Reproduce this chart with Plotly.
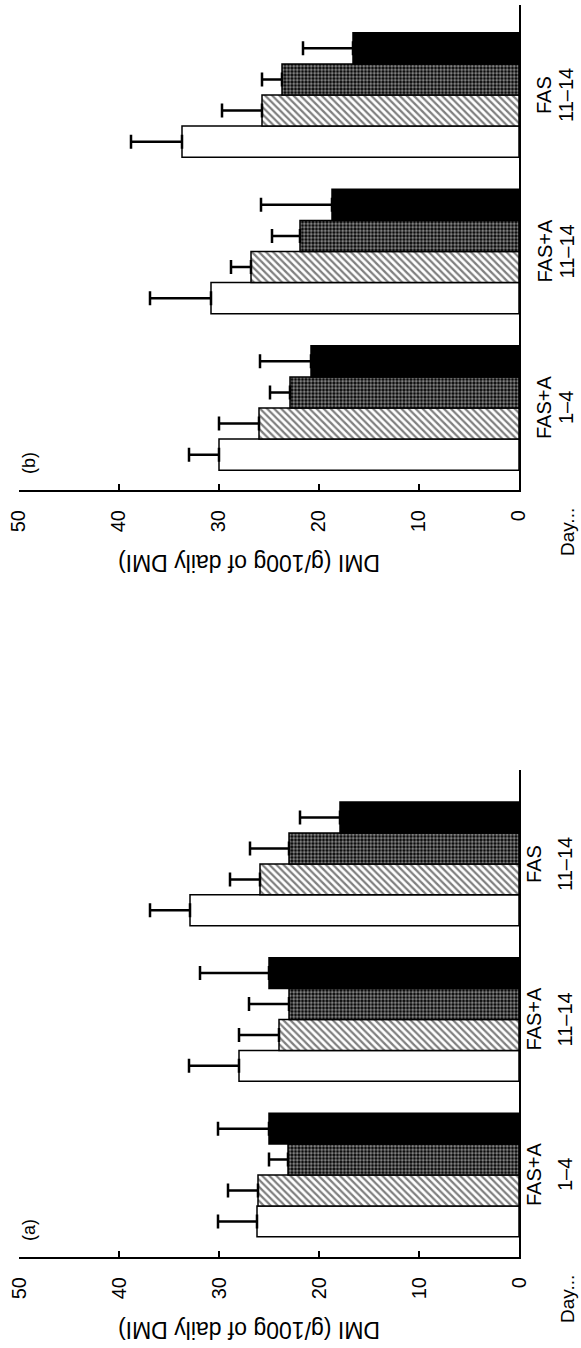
import plotly.graph_objects as go

# ---------------- data ----------------
categories = ["FAS+A 1–4", "FAS+A 11–14", "FAS 11–14"]
treat_labels = ["FAS+A", "FAS+A", "FAS"]
day_labels = ["1–4", "11–14", "11–14"]
series_names = ["open", "hatched", "stippled", "solid"]
x_ticks = [0, 10, 20, 30, 40, 50]

# panel (a)
a_open = [26.2, 28.0, 32.9]
a_open_err = [3.9, 5.0, 4.0]
a_hatched = [26.1, 24.0, 25.9]
a_hatched_err = [3.0, 4.0, 3.0]
a_stippled = [23.1, 23.0, 23.0]
a_stippled_err = [1.9, 4.0, 3.9]
a_solid = [25.0, 25.0, 17.9]
a_solid_err = [5.1, 6.9, 4.0]

# panel (b)
b_open = [30.0, 30.8, 33.7]
b_open_err = [3.0, 6.1, 5.1]
b_hatched = [26.0, 26.8, 25.7]
b_hatched_err = [4.0, 2.0, 4.0]
b_stippled = [22.9, 21.9, 23.7]
b_stippled_err = [2.0, 2.8, 2.0]
b_solid = [20.8, 18.7, 16.6]
b_solid_err = [5.1, 7.1, 5.0]

# ---------------- styling ----------------
FONT = "Liberation Sans, Arial, Helvetica, sans-serif"
styles = [
    dict(color="white"),
    dict(color="white", pattern=dict(shape="\\", fgcolor="black", bgcolor="white",
                                     size=5, solidity=0.45)),
    dict(color="black", pattern=dict(shape=".", fgcolor="white", bgcolor="black",
                                     size=3.5, solidity=0.55)),
    dict(color="black"),
]

fig = go.Figure()

panels = [
    ("x", "y", [b_open, b_hatched, b_stippled, b_solid],
     [b_open_err, b_hatched_err, b_stippled_err, b_solid_err]),
    ("x2", "y2", [a_open, a_hatched, a_stippled, a_solid],
     [a_open_err, a_hatched_err, a_stippled_err, a_solid_err]),
]

for xr, yr, vals, errs in panels:
    for name, v, e, st in zip(series_names, vals, errs, styles):
        marker = dict(st)
        marker["line"] = dict(color="black", width=1.5)
        fig.add_trace(go.Bar(
            x=v, y=categories, orientation="h", name=name,
            marker=marker, xaxis=xr, yaxis=yr,
            error_x=dict(type="data", symmetric=False, array=e,
                         arrayminus=[0] * len(e), color="black",
                         thickness=2.5, width=7),
            showlegend=False,
        ))

tick_font = dict(family=FONT, size=20, color="black")
common_x = dict(range=[50, 0], tickmode="array", tickvals=x_ticks,
                ticktext=[str(t) for t in x_ticks],
                ticks="inside", ticklen=6, tickwidth=2, tickcolor="black",
                showline=True, linewidth=2, linecolor="black",
                showgrid=False, zeroline=False, tickangle=-90,
                tickfont=tick_font, ticklabelstandoff=10)
common_y = dict(type="category", side="right", showline=True, linewidth=2,
                linecolor="black", showgrid=False, zeroline=False,
                showticklabels=False, ticks="")

fig.update_layout(
    xaxis=dict(domain=[0, 1], anchor="y", **common_x),
    yaxis=dict(domain=[0.6126, 1], anchor="x", range=[-0.524, 2.575], **common_y),
    xaxis2=dict(domain=[0, 1], anchor="y2", **common_x),
    yaxis2=dict(domain=[0, 0.389], anchor="x2", range=[-0.527, 2.604], **common_y),
    barmode="group", bargap=0.205, bargroupgap=0,
    width=581, height=1348,
    margin=dict(l=19, r=62, t=5, b=91),
    showlegend=False,
    plot_bgcolor="white", paper_bgcolor="white",
    font=dict(family=FONT, color="black"),
)

annotations = []
panel_info = [("x", "y", "(b)", 544, 566), ("x2", "y2", "(a)", 534, 565)]
for xr, yr, lab, px1, px2 in panel_info:
    annotations.append(dict(text="DMI (g/100g of daily DMI)", xref=xr, x=27,
                            yref=f"{yr} domain", y=0, yshift=-73, textangle=180,
                            showarrow=False, xanchor="center", yanchor="middle",
                            font=dict(family=FONT, size=23, color="black")))
    annotations.append(dict(text=lab, xref=xr, x=49, yref=f"{yr} domain", y=0,
                            yshift=27, textangle=-90, showarrow=False,
                            xanchor="center", yanchor="middle",
                            font=dict(family=FONT, size=18, color="black")))
    annotations.append(dict(text="Day...", xref="paper", x=(567 - 19) / 500,
                            yref=f"{yr} domain", y=0, yshift=-42, textangle=-90,
                            showarrow=False, xanchor="center", yanchor="middle",
                            font=dict(family=FONT, size=19, color="black")))
    for cat, t1, t2 in zip(categories, treat_labels, day_labels):
        annotations.append(dict(text=t1, xref="paper", x=(px1 - 19) / 500,
                                yref=yr, y=cat, textangle=-90, showarrow=False,
                                xanchor="center", yanchor="middle",
                                font=dict(family=FONT, size=20, color="black")))
        annotations.append(dict(text=t2, xref="paper", x=(px2 - 19) / 500,
                                yref=yr, y=cat, textangle=-90, showarrow=False,
                                xanchor="center", yanchor="middle",
                                font=dict(family=FONT, size=20, color="black")))

fig.update_layout(annotations=annotations)

fig.write_html("out.html",
               config={"displayModeBar": False},
               post_script="document.body.style.margin='0px';"
                           "document.body.style.padding='0px';")
